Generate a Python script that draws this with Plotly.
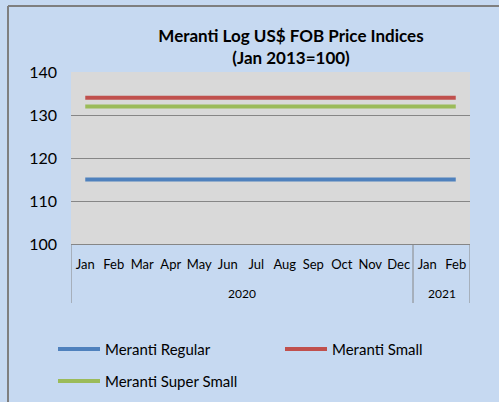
import plotly.graph_objects as go

months = ["Jan", "Feb", "Mar", "Apr", "May", "Jun", "Jul", "Aug", "Sep", "Oct", "Nov", "Dec", "Jan", "Feb"]
years = ["2020", "2021"]
year_counts = [12, 2]
series_names = ["Meranti Regular", "Meranti Small", "Meranti Super Small"]
regular = [115] * 14
small = [134] * 14
super_small = [132] * 14
y_ticks = [100, 110, 120, 130, 140]

W, H = 499, 402
L, R, T, B = 71, 29, 72, 158
pw, ph = W - L - R, H - T - B

def px(x):
    return (x - L) / pw

def py(y):
    return (H - B - y) / ph

colors = ["#4F81BD", "#C0504D", "#9BBB59"]
xs = list(range(len(months)))
font = "Lato"
fig = go.Figure()
for name, vals, col in zip(series_names, [regular, small, super_small], colors):
    fig.add_trace(go.Scatter(x=xs, y=vals, mode="lines", name=name,
                             line=dict(color=col, width=4), showlegend=False))

shapes = []
bounds = [-0.5]
for c in year_counts:
    bounds.append(bounds[-1] + c)
for b in bounds:
    shapes.append(dict(type="line", xref="x", yref="paper", x0=b, x1=b, y0=0, y1=py(303),
                       line=dict(color="#868686", width=1)))
shapes.append(dict(type="line", xref="paper", yref="paper", x0=px(8), x1=px(8), y0=py(6), y1=py(402),
                   line=dict(color="#7F7F7F", width=2)))
shapes.append(dict(type="line", xref="paper", yref="paper", x0=px(8), x1=px(499), y0=py(6), y1=py(6),
                   line=dict(color="#7F7F7F", width=2)))

annotations = []
start = 0
for yr, c in zip(years, year_counts):
    annotations.append(dict(x=start + (c - 1) / 2, y=py(293), xref="x", yref="paper", text=yr,
                            showarrow=False, font=dict(family=font, size=12, color="#000000"),
                            yanchor="middle"))
    start += c

legend_pos = [(58, 349), (285, 349), (58, 381)]
for name, col, (lx, ly) in zip(series_names, colors, legend_pos):
    shapes.append(dict(type="line", xref="paper", yref="paper", x0=px(lx), x1=px(lx + 42),
                       y0=py(ly), y1=py(ly), line=dict(color=col, width=4)))
    annotations.append(dict(x=px(lx + 45), y=py(ly), xref="paper", yref="paper", text=name,
                            showarrow=False, xanchor="left", yanchor="middle",
                            font=dict(family=font, size=15, color="#000000")))

fig.update_layout(
    width=W, height=H,
    margin=dict(l=L, r=R, t=T, b=B, autoexpand=False),
    paper_bgcolor="#C6D9F1",
    plot_bgcolor="#D9D9D9",
    title=dict(text="<b>Meranti Log US$ FOB Price Indices<br>(Jan 2013=100)</b>",
               xref="container", x=291 / W, xanchor="center",
               yref="container", y=1 - 42 / H, yanchor="middle",
               font=dict(family=font, size=17, color="#000000")),
    xaxis=dict(range=[-0.5, 13.5], tickmode="array", tickvals=xs, ticktext=months,
               showgrid=False, zeroline=False, showline=True, linecolor="#868686",
               tickfont=dict(family=font, size=13, color="#000000"), ticks="", ticklen=0,
               ticklabelstandoff=8, fixedrange=True),
    yaxis=dict(range=[100, 140], tickmode="array", tickvals=y_ticks, showgrid=True,
               gridcolor="#868686", gridwidth=1, zeroline=False, showline=False,
               tickfont=dict(family=font, size=16, color="#000000"), ticks="", ticklen=0,
               ticklabelstandoff=13, fixedrange=True),
    shapes=shapes,
    annotations=annotations,
    showlegend=False,
)
fig.write_html("out.html", config={"displayModeBar": False},
               post_script="document.body.style.margin='0';")
